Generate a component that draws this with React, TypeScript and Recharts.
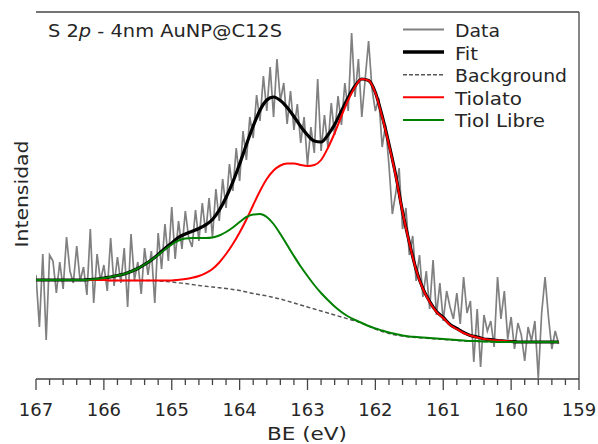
import React from 'react';
import { LineChart, Line, XAxis, YAxis, ReferenceLine } from 'recharts';

// Binding energy grid of the fitted curves (eV)
const fitEnergy = [
  167.0, 166.9, 166.8, 166.7, 166.6, 166.5, 166.4, 166.3, 166.2, 166.1,
  166.0, 165.9, 165.8, 165.7, 165.6, 165.5, 165.4, 165.3, 165.2, 165.1,
  165.0, 164.9, 164.8, 164.7, 164.6, 164.5, 164.4, 164.3, 164.2, 164.1,
  164.0, 163.9, 163.8, 163.7, 163.6, 163.5, 163.4, 163.3, 163.2, 163.1,
  163.0, 162.9, 162.8, 162.7, 162.6, 162.5, 162.4, 162.3, 162.2, 162.1,
  162.0, 161.9, 161.8, 161.7, 161.6, 161.5, 161.4, 161.3, 161.2, 161.1,
  161.0, 160.9, 160.8, 160.7, 160.6, 160.5, 160.4, 160.3, 160.2, 160.1,
  160.0, 159.9, 159.8, 159.7, 159.6, 159.5, 159.4, 159.3,
];

const backgroundVals = [
  99, 99, 99, 99, 99, 99, 99, 99, 99, 99,
  99, 98.5, 98.5, 98.5, 98.5, 98.5, 98.5, 98.5, 98, 97.5,
  97, 96.2, 95.5, 94.5, 93.5, 92.7, 92, 91.2, 90.5, 89.5,
  88.5, 87, 85.5, 84.2, 83, 81.5, 80, 78, 76, 74,
  72, 70, 68, 66, 64, 62, 60, 58, 56, 53,
  50, 47.5, 45.5, 44, 43, 42, 41.5, 41, 40.5, 40,
  39.5, 39, 38.5, 38, 38, 37.5, 37.5, 37, 37, 37,
  37, 37, 37, 37, 37, 37, 37, 37,
];

const tiolatoVals = [
  99, 99, 99, 99, 99, 99, 99, 99, 99, 99,
  99, 98.5, 98.5, 98.5, 98.5, 98.5, 98.5, 98.5, 98.5, 98.5,
  98.5, 99.3, 100, 101.2, 103, 105.8, 110, 116.5, 125, 135,
  146.5, 159.5, 174, 188, 200, 208.5, 213.5, 215.5, 215.5, 214,
  213, 214, 219, 231, 246, 263, 279, 292, 300, 298.5,
  286, 262, 234, 203, 167, 136, 109, 90, 77, 67,
  61, 54, 50, 46, 43.5, 41.5, 40, 39, 38.5, 38,
  37.5, 37, 37, 37, 37, 37, 37, 37,
];

const tiolLibreVals = [
  99, 99, 99, 99, 99, 99, 99, 99, 99.5, 100,
  101, 102, 103.5, 105, 107.5, 110.5, 114.5, 119, 124, 129.5,
  134.5, 138.5, 140.5, 141, 141, 141, 141.5, 143.5, 147, 151.5,
  157, 162, 164.5, 165, 162, 155, 145, 134, 123, 112.5,
  103, 94, 86, 79, 72.5, 67, 62.5, 59, 56, 53,
  50.5, 48.5, 46.5, 45, 43.5, 42.5, 42, 41.5, 41, 40.5,
  40, 39.5, 39, 38.5, 38, 38, 37.5, 37.5, 37, 37,
  37, 37, 37, 37, 37, 37, 37, 37,
];

const fitVals = [
  99, 99, 99, 99, 99, 99, 99, 99, 99.5, 100,
  101, 102, 103.5, 105, 107.5, 110.5, 114.5, 119, 124.5, 130.5,
  136, 141.6, 145, 147.7, 150.5, 154.1, 159.5, 168.8, 181.5, 197,
  215, 234.5, 253, 268.8, 279, 282, 278.5, 271.5, 262.5, 252.5,
  244, 238, 237, 244, 254.5, 268, 281.5, 293, 300, 298.5,
  286.5, 263, 235, 204, 167.5, 136.5, 109.5, 90.5, 77.5, 67.5,
  61.5, 54.5, 50.5, 46.5, 43.5, 42, 40, 39.5, 38.5, 38,
  37.5, 37, 37, 37, 37, 37, 37, 37,
];

// Measured spectrum
const dataEnergy = [
  167.0, 166.95, 166.9, 166.85, 166.8, 166.75, 166.7, 166.65, 166.6, 166.55,
  166.5, 166.45, 166.4, 166.35, 166.3, 166.25, 166.2, 166.15, 166.1, 166.05,
  166.0, 165.95, 165.9, 165.85, 165.8, 165.75, 165.7, 165.65, 165.6, 165.55,
  165.5, 165.45, 165.4, 165.35, 165.3, 165.25, 165.2, 165.15, 165.1, 165.05,
  165.0, 164.95, 164.9, 164.85, 164.8, 164.75, 164.7, 164.65, 164.6, 164.55,
  164.5, 164.45, 164.4, 164.35, 164.3, 164.25, 164.2, 164.15, 164.1, 164.05,
  164.0, 163.95, 163.9, 163.85, 163.8, 163.75, 163.7, 163.65, 163.6, 163.55,
  163.5, 163.45, 163.4, 163.35, 163.3, 163.25, 163.2, 163.15, 163.1, 163.05,
  163.0, 162.95, 162.9, 162.85, 162.8, 162.75, 162.7, 162.65, 162.6, 162.55,
  162.5, 162.45, 162.4, 162.35, 162.3, 162.25, 162.2, 162.15, 162.1, 162.05,
  162.0, 161.95, 161.9, 161.85, 161.8, 161.75, 161.7, 161.65, 161.6, 161.55,
  161.5, 161.45, 161.4, 161.35, 161.3, 161.25, 161.2, 161.15, 161.1, 161.05,
  161.0, 160.95, 160.9, 160.85, 160.8, 160.75, 160.7, 160.65, 160.6, 160.55,
  160.5, 160.45, 160.4, 160.35, 160.3, 160.25, 160.2, 160.15, 160.1, 160.05,
  160.0, 159.95, 159.9, 159.85, 159.8, 159.75, 159.7, 159.65, 159.6, 159.55,
  159.5, 159.45, 159.4, 159.35, 159.3,
];

const dataVals = [
  104, 52, 125, 39, 124, 118, 86, 117, 90, 142,
  108, 96, 133, 98, 112, 84, 150, 76, 125, 98,
  114, 88, 141, 93, 122, 96, 131, 72, 145, 99,
  117, 85, 131, 104, 128, 76, 146, 110, 155, 118,
  172, 120, 158, 130, 168, 141, 132, 169, 138, 176,
  146, 181, 142, 190, 158, 200, 171, 215, 188, 231,
  198, 248, 219, 262, 241, 284, 258, 303, 268, 312,
  262, 320, 278, 296, 255, 288, 249, 275, 236, 262,
  214, 252, 226, 300, 228, 264, 232, 276, 244, 283,
  254, 296, 268, 346, 282, 320, 262, 300, 338, 290,
  268, 281, 232, 254, 214, 165, 186, 211, 150, 171,
  124, 143, 98, 124, 82, 108, 70, 119, 64, 96,
  58, 88, 72, 60, 86, 55, 102, 66, 78, 17,
  70, 12, 64, 48, 58, 32, 102, 60, 88, 40,
  62, 30, 56, 44, 18, 52, 38, 58, 1, 66,
  102, 62, 30, 48, 35,
];

const majorTicks = [167, 166, 165, 164, 163, 162, 161, 160, 159];
const minorTicks = [
  166.8, 166.6, 166.4, 166.2, 165.8, 165.6, 165.4, 165.2, 164.8, 164.6,
  164.4, 164.2, 163.8, 163.6, 163.4, 163.2, 162.8, 162.6, 162.4, 162.2,
  161.8, 161.6, 161.4, 161.2, 160.8, 160.6, 160.4, 160.2, 159.8, 159.6,
  159.4, 159.2,
];

const seriesNames = ['Data', 'Fit', 'Background', 'Tiolato', 'Tiol Libre'];

const fitTable = fitEnergy.map((x, i) => ({
  x,
  bg: backgroundVals[i],
  fit: fitVals[i],
  tiolato: tiolatoVals[i],
  libre: tiolLibreVals[i],
}));
const dataTable = dataEnergy.map((x, i) => ({ x, y: dataVals[i] }));
const allTicks = [...majorTicks, ...minorTicks].sort((a, b) => b - a);

const FONT = '"DejaVu Sans", Verdana, sans-serif';
const AXIS = '#444';
const TEXT = '#262626';

const TickMark = (props: any) => {
  const { x, y, payload } = props;
  const v = payload.value as number;
  const major = Math.abs(v - Math.round(v)) < 1e-6;
  return (
    <g>
      <line x1={x} x2={x} y1={y} y2={y + (major ? 11 : 6)} stroke={AXIS} strokeWidth={1.3} />
      {major && (
        <text x={x} y={y + 37} textAnchor="middle" fontSize={18} fontFamily={FONT} fill={TEXT}>
          {Math.round(v)}
        </text>
      )}
    </g>
  );
};

const legendStyles = [
  { stroke: '#808080', width: 2, dash: undefined as string | undefined, textLen: 45 },
  { stroke: '#000000', width: 3.5, dash: undefined, textLen: 23 },
  { stroke: '#555555', width: 1.5, dash: '4 2', textLen: 112 },
  { stroke: '#ff0000', width: 2, dash: undefined, textLen: 67 },
  { stroke: '#008000', width: 2, dash: undefined, textLen: 90 },
];

export default function App() {
  return (
    <div style={{ position: 'absolute', left: 0, top: 0, width: 598, height: 444, background: '#fff' }}>
      <LineChart
        width={598}
        height={444}
        margin={{ top: 12, right: 19, left: 36, bottom: 0 }}
      >
        <XAxis
          type="number"
          dataKey="x"
          domain={[159, 167]}
          reversed
          allowDataOverflow
          ticks={allTicks}
          interval={0}
          tick={<TickMark />}
          tickLine={false}
          tickSize={0}
          tickMargin={0}
          height={65}
          axisLine={{ stroke: AXIS, strokeWidth: 1.3 }}
        />
        <YAxis
          type="number"
          domain={[0, 367]}
          allowDataOverflow
          tick={false}
          tickLine={false}
          width={0}
          axisLine={{ stroke: AXIS, strokeWidth: 1.3 }}
        />
        <ReferenceLine x={159} stroke={AXIS} strokeWidth={1.3} />
        <ReferenceLine y={367} stroke={AXIS} strokeWidth={1.3} />
        <Line
          data={dataTable}
          dataKey="y"
          name={seriesNames[0]}
          type="linear"
          stroke="#808080"
          strokeWidth={1.7}
          dot={false}
          isAnimationActive={false}
        />
        <Line
          data={fitTable}
          dataKey="bg"
          name={seriesNames[2]}
          type="monotone"
          stroke="#555555"
          strokeWidth={1.4}
          strokeDasharray="4 2.5"
          dot={false}
          isAnimationActive={false}
        />
        <Line
          data={fitTable}
          dataKey="fit"
          name={seriesNames[1]}
          type="monotone"
          stroke="#000000"
          strokeWidth={3.2}
          dot={false}
          isAnimationActive={false}
        />
        <Line
          data={fitTable}
          dataKey="tiolato"
          name={seriesNames[3]}
          type="monotone"
          stroke="#ff0000"
          strokeWidth={2}
          dot={false}
          isAnimationActive={false}
        />
        <Line
          data={fitTable}
          dataKey="libre"
          name={seriesNames[4]}
          type="monotone"
          stroke="#008000"
          strokeWidth={2}
          dot={false}
          isAnimationActive={false}
        />
      </LineChart>
      <svg
        width={598}
        height={444}
        style={{ position: 'absolute', left: 0, top: 0, pointerEvents: 'none' }}
      >
        <text x={48} y={37} fontSize={17} fontFamily={FONT} fill={TEXT} textLength={234} lengthAdjust="spacingAndGlyphs">
          S 2<tspan fontStyle="italic">p</tspan> - 4nm AuNP@C12S
        </text>
        {seriesNames.map((name, i) => {
          const s = legendStyles[i];
          const base = 37 + i * 22.6;
          return (
            <g key={name}>
              <line x1={403} x2={444} y1={base - 7.5} y2={base - 7.5} stroke={s.stroke} strokeWidth={s.width} strokeDasharray={s.dash} />
              <text x={455} y={base} fontSize={17} fontFamily={FONT} fill={TEXT} textLength={s.textLen} lengthAdjust="spacingAndGlyphs">
                {name}
              </text>
            </g>
          );
        })}
        <text x={267} y={440} fontSize={18} fontFamily={FONT} fill={TEXT} textLength={80} lengthAdjust="spacingAndGlyphs">
          BE (eV)
        </text>
        <text
          x={0}
          y={0}
          transform="translate(28,194) rotate(-90)"
          textAnchor="middle"
          fontSize={18}
          fontFamily={FONT}
          fill={TEXT}
          textLength={107}
          lengthAdjust="spacingAndGlyphs"
        >
          Intensidad
        </text>
      </svg>
    </div>
  );
}
